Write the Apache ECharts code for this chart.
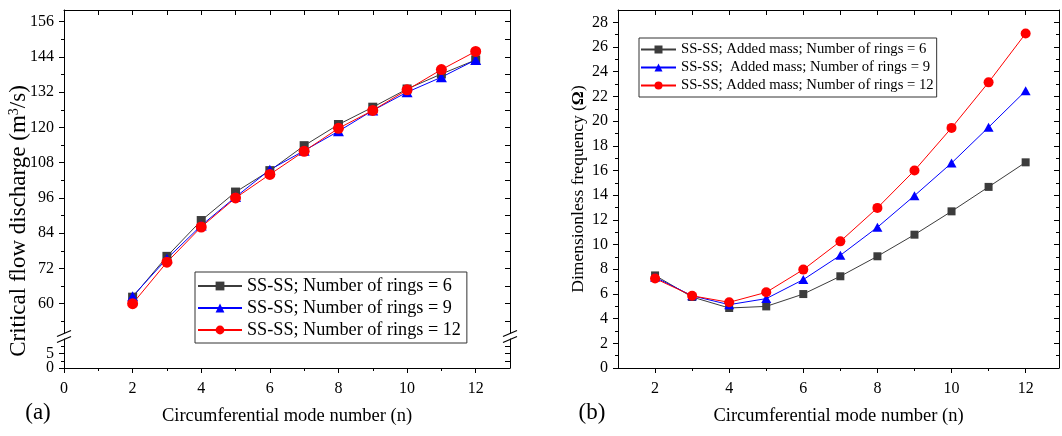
<!DOCTYPE html>
<html>
<head>
<meta charset="utf-8">
<script src="https://cdn.jsdelivr.net/npm/echarts@6/dist/echarts.min.js"></script>
<style>
html, body { margin: 0; padding: 0; background: #fff; }
#chart { width: 1062px; height: 436px; }
</style>
</head>
<body>
<div id="chart"></div>
<script>
// (a) critical flow discharge, SS-SS
const modesA = [2, 3, 4, 5, 6, 7, 8, 9, 10, 11, 12];
const flowRings6 = [62.2, 76.1, 88.3, 98.0, 105.3, 113.8, 121.0, 126.9, 133.1, 138.2, 143.0];
const flowRings9 = [62.5, 75.3, 86.6, 96.3, 105.6, 112.1, 118.7, 125.8, 132.0, 137.1, 143.0];
const flowRings12 = [60.0, 74.1, 86.1, 96.0, 104.0, 111.9, 119.7, 125.8, 132.8, 139.7, 145.9];
const namesA = ['SS-SS; Number of rings = 6', 'SS-SS; Number of rings = 9', 'SS-SS; Number of rings = 12'];

// (b) dimensionless frequency with added mass
const modesB = [2, 3, 4, 5, 6, 7, 8, 9, 10, 11, 12];
const freqRings6 = [7.5, 5.75, 4.86, 4.99, 5.99, 7.43, 9.05, 10.8, 12.69, 14.67, 16.66];
const freqRings9 = [7.35, 5.85, 5.13, 5.62, 7.16, 9.13, 11.4, 13.96, 16.6, 19.5, 22.45];
const freqRings12 = [7.25, 5.85, 5.32, 6.13, 7.97, 10.26, 12.97, 16.0, 19.45, 23.14, 27.1];
const namesB = ['SS-SS; Added mass; Number of rings = 6', 'SS-SS;  Added mass; Number of rings = 9', 'SS-SS; Added mass; Number of rings = 12'];

// tick values
const xTicksA = [0, 2, 4, 6, 8, 10, 12];
const xMinorA = [1, 3, 5, 7, 9, 11];
const xTopA = [1, 2, 3, 4, 5, 6, 7, 8, 9, 10, 11, 12];
const yTicksUpA = [60, 72, 84, 96, 108, 120, 132, 144, 156];
const yMinorUpA = [54, 66, 78, 90, 102, 114, 126, 138, 150];
const yTicksLowA = [0, 5];
const yMinorLowA = [2.5, 7.5];
const xTicksB = [2, 4, 6, 8, 10, 12];
const xMinorB = [3, 5, 7, 9, 11];
const xTopB = [2, 3, 4, 5, 6, 7, 8, 9, 10, 11, 12];
const yTicksB = [0, 2, 4, 6, 8, 10, 12, 14, 16, 18, 20, 22, 24, 26, 28];
const yMinorB = [1, 3, 5, 7, 9, 11, 13, 15, 17, 19, 21, 23, 25, 27];

const serif = "'Liberation Serif', 'DejaVu Serif', serif";

// layout of the three grids (upper/lower part of broken axis in (a), and (b))
const gA = { left: 64, width: 446, upTop: 10, upH: 323, lowTop: 339, lowH: 29 };
const gB = { left: 618, top: 10, width: 441, height: 358 };

function axis(gridIndex, position, min, max, ticks, opts) {
    opts = opts || {};
    const ax = {
        type: 'value',
        gridIndex: gridIndex,
        position: position,
        min: min,
        max: max,
        axisLine: {show: opts.line !== false, onZero: false, lineStyle: {color: '#000', width: 1}},
        axisTick: {show: true, inside: !!opts.inside, length: opts.len || 5, customValues: ticks,
                   lineStyle: {color: '#000', width: 1}},
        axisLabel: {show: false},
        splitLine: {show: false}
    };
    if (opts.labels) {
        ax.axisLabel = {
            show: true, customValues: opts.labels, showMinLabel: true, showMaxLabel: true,
            hideOverlap: false,
            fontFamily: serif, fontSize: 16, color: '#000', margin: opts.margin || 10
        };
    }
    if (opts.name) {
        ax.name = opts.name;
        ax.nameLocation = 'middle';
        ax.nameGap = opts.nameGap;
        ax.nameTextStyle = {fontFamily: serif, fontSize: opts.nameSize || 18.5, color: '#000',
                            rich: {b: {fontFamily: serif, fontSize: opts.nameSize || 18.5, fontWeight: 'bold', color: '#000'}}};
    }
    return ax;
}

function pairs(xs, ys) {
    return xs.map(function(x, i) { return [x, ys[i]]; });
}

function lineSeries(name, xi, yi, data, color, symbol, size) {
    return {
        name: name,
        type: 'line',
        xAxisIndex: xi,
        yAxisIndex: yi,
        data: data,
        symbol: symbol,
        symbolSize: size,
        color: color,
        lineStyle: {color: color, width: 1},
        itemStyle: {color: color},
        animation: false
    };
}

function slash(x, y) {
    return {
        type: 'line',
        shape: {x1: x - 7, y1: y + 3, x2: x + 7, y2: y - 3},
        style: {stroke: '#000', lineWidth: 1.3}
    };
}

const chart = echarts.init(document.getElementById('chart'));

const breakTop = gA.upTop + gA.upH;
const breakBottom = gA.lowTop;

const option = {
    backgroundColor: '#fff',
    animation: false,
    grid: [
        {left: gA.left, top: gA.upTop, width: gA.width, height: gA.upH},
        {left: gA.left, top: gA.lowTop, width: gA.width, height: gA.lowH},
        {left: gB.left, top: gB.top, width: gB.width, height: gB.height}
    ],
    xAxis: [
        axis(0, 'top', 0, 13, xTopA, {inside: true}),
        axis(1, 'bottom', 0, 13, xTicksA, {labels: xTicksA, margin: 13,
            name: 'Circumferential mode number (n)', nameGap: 39}),
        axis(1, 'bottom', 0, 13, xMinorA, {line: false, len: 3}),
        axis(2, 'bottom', 1, 12.9, xTicksB, {labels: xTicksB, margin: 13,
            name: 'Circumferential mode number (n)', nameGap: 39}),
        axis(2, 'bottom', 1, 12.9, xMinorB, {line: false, len: 3}),
        axis(2, 'top', 1, 12.9, xTopB, {inside: true})
    ],
    yAxis: [
        axis(0, 'left', 50, 160, yTicksUpA, {labels: yTicksUpA}),
        axis(0, 'left', 50, 160, yMinorUpA, {line: false, len: 3}),
        axis(0, 'right', 50, 160, yTicksUpA.concat(yMinorUpA), {inside: true}),
        // lower part: labels 0 and 5 split over two overlaid axes so neither gets hidden
        axis(1, 'left', 0, 10, yTicksLowA, {labels: [yTicksLowA[0]]}),
        axis(1, 'left', 0, 10, yMinorLowA, {line: false, len: 3, labels: [yTicksLowA[1]]}),
        axis(1, 'right', 0, 10, [2.5, 5, 7.5], {inside: true}),
        axis(2, 'left', 0, 29, yTicksB, {labels: yTicksB,
            name: 'Dimensionless frequency ({b|Ω})', nameGap: 31, nameSize: 17.5}),
        axis(2, 'left', 0, 29, yMinorB, {line: false, len: 3}),
        axis(2, 'right', 0, 29, yTicksB, {inside: true}),
        axis(2, 'right', 0, 29, yMinorB, {inside: true, line: false, len: 3})
    ],
    legend: [
        {
            data: namesA, orient: 'vertical', left: 195, top: 272,
            padding: [5, 6, 4, 2], itemGap: 4, itemWidth: 44, itemHeight: 11,
            borderColor: '#333', borderWidth: 1, selectedMode: false,
            textStyle: {fontFamily: serif, fontSize: 18.2, lineHeight: 18, color: '#000'}
        },
        {
            data: namesB, orient: 'vertical', left: 639, top: 38,
            padding: [4, 3, 4, 1], itemGap: 3, itemWidth: 35, itemHeight: 10,
            borderColor: '#333', borderWidth: 1, selectedMode: false,
            textStyle: {fontFamily: serif, fontSize: 14.7, lineHeight: 15, color: '#000'}
        }
    ],
    graphic: [
        {
            type: 'text', x: 19, y: 221, rotation: Math.PI / 2,
            style: {
                text: 'Critical flow discharge (m{sup|3}/s)',
                fontFamily: serif, fontSize: 23, fill: '#000',
                align: 'center', verticalAlign: 'middle',
                rich: {sup: {fontFamily: serif, fontSize: 14, verticalAlign: 'top', fill: '#000'}}
            }
        },
        {type: 'text', x: 38, y: 413, style: {text: '(a)', fontFamily: serif, fontSize: 23, fill: '#000', align: 'center', verticalAlign: 'middle'}},
        {type: 'text', x: 592, y: 413, style: {text: '(b)', fontFamily: serif, fontSize: 23, fill: '#000', align: 'center', verticalAlign: 'middle'}},
        slash(gA.left, breakTop + 0.5),
        slash(gA.left, breakBottom + 0.5),
        slash(gA.left + gA.width, breakTop + 0.5),
        slash(gA.left + gA.width, breakBottom + 0.5)
    ],
    series: [
        lineSeries(namesA[0], 0, 0, pairs(modesA, flowRings6), '#3c3c3c', 'rect', 9),
        lineSeries(namesA[1], 0, 0, pairs(modesA, flowRings9), '#0000ff', 'triangle', [11, 10]),
        lineSeries(namesA[2], 0, 0, pairs(modesA, flowRings12), '#ff0000', 'circle', 11),
        lineSeries(namesB[0], 3, 6, pairs(modesB, freqRings6), '#3c3c3c', 'rect', 8),
        lineSeries(namesB[1], 3, 6, pairs(modesB, freqRings9), '#0000ff', 'triangle', [10, 9]),
        lineSeries(namesB[2], 3, 6, pairs(modesB, freqRings12), '#ff0000', 'circle', 10)
    ]
};

chart.setOption(option);
window.addEventListener('resize', function() { chart.resize(); });
</script>
</body>
</html>
